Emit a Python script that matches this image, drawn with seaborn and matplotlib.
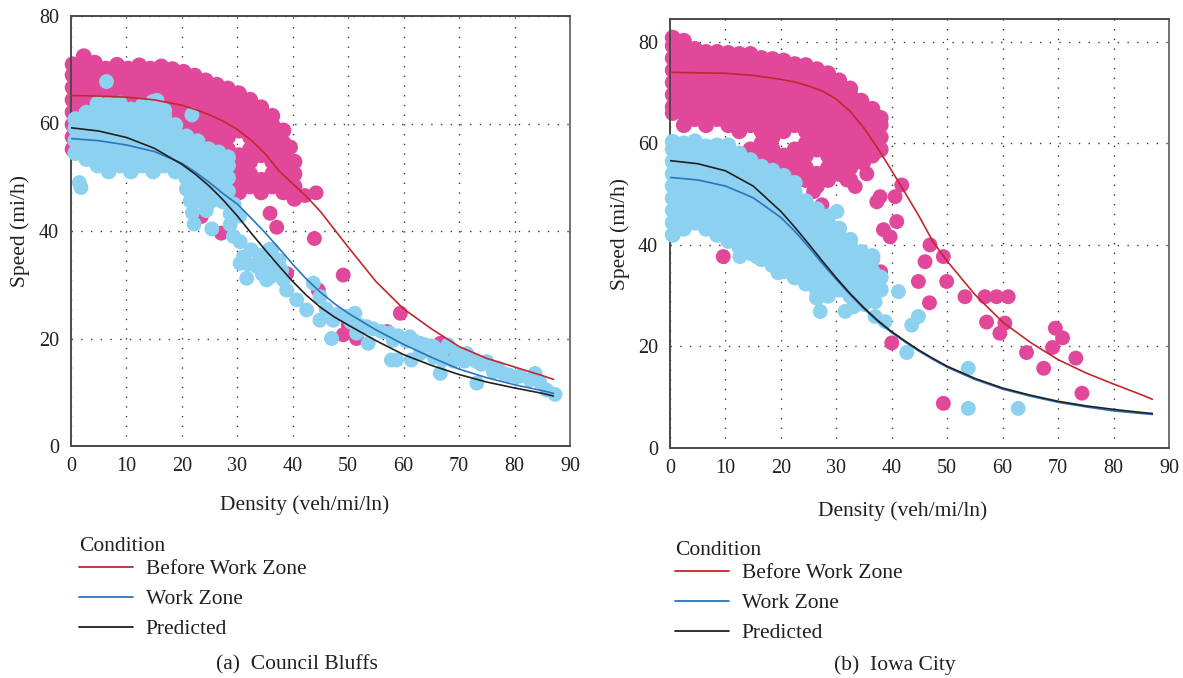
import matplotlib
matplotlib.use("Agg")
import matplotlib.pyplot as plt
from matplotlib.lines import Line2D
import pandas as pd
import seaborn as sns

# ---------------- data: fitted curves (speed vs density) ----------------
density_grid = [0, 5, 10, 15, 20, 22.5, 25, 27.5, 30, 32.5, 35, 37.5, 40, 42.5,
                45, 47.5, 50, 55, 60, 65, 70, 75, 80, 85, 87]

cb_before_curve = [65.2, 65.1, 64.9, 64.4, 63.4, 62.6, 61.6, 60.4, 58.9, 56.9, 54.4,
                   51.2, 48.8, 46.4, 43.6, 40.3, 37.0, 30.6, 25.5, 21.8, 18.5, 16.3,
                   14.7, 13.1, 12.4]
cb_workzone_curve = [57.2, 56.8, 56.0, 54.8, 52.6, 50.9, 49.0, 46.9, 45.0, 42.4, 39.7,
                     36.8, 33.8, 31.0, 28.6, 26.5, 24.7, 21.6, 18.9, 16.5, 14.3, 12.7,
                     11.4, 10.3, 9.8]
cb_predicted_curve = [59.2, 58.6, 57.4, 55.4, 52.4, 50.5, 48.3, 45.7, 42.8, 39.6, 36.5,
                      33.5, 30.6, 28.0, 25.8, 24.0, 22.5, 19.6, 17.0, 15.0, 13.3, 11.9,
                      10.8, 9.8, 9.3]

ic_before_curve = [74.0, 73.9, 73.8, 73.4, 72.6, 72.1, 71.3, 70.3, 68.7, 66.3, 63.0,
                   59.0, 54.6, 50.1, 45.5, 40.5, 36.8, 30.2, 24.8, 20.8, 17.4, 14.8,
                   12.6, 10.5, 9.6]
ic_workzone_curve = [53.3, 52.8, 51.6, 49.3, 45.4, 42.7, 39.6, 36.3, 33.2, 30.2, 27.4,
                     24.9, 22.7, 20.8, 19.0, 17.4, 15.9, 13.5, 11.6, 10.2, 9.0, 8.1,
                     7.3, 6.8, 6.6]
ic_predicted_curve = [56.6, 56.0, 54.6, 51.6, 46.6, 43.5, 40.2, 36.8, 33.5, 30.4, 27.6,
                      25.1, 22.9, 21.0, 19.2, 17.6, 16.1, 13.7, 11.8, 10.4, 9.2, 8.3,
                      7.6, 7.0, 6.8]

conditions = ["Before Work Zone", "Work Zone", "Predicted"]

# ---------------- data: observations (density column -> speeds) ----------------
cb_before_cols = {
    0.3: [55.2, 57.5, 59.8, 62.1, 64.4, 66.7, 69.0, 71.0],
    2.3: [61.0, 63.3, 65.6, 67.9, 70.2, 72.5],
    4.3: [62.1, 64.4, 66.7, 69.0, 71.3],
    6.3: [63.3, 65.6, 67.9, 70.2],
    8.3: [62.1, 64.4, 66.7, 69.0, 70.9],
    10.3: [63.3, 65.6, 67.9, 70.2],
    12.3: [62.1, 64.4, 66.7, 69.0, 70.8],
    14.3: [63.3, 65.6, 67.9, 70.2],
    16.3: [62.1, 64.4, 66.7, 69.0, 70.6],
    18.3: [58.7, 61.0, 63.3, 65.6, 67.9, 70.1],
    20.3: [57.5, 59.8, 62.1, 64.4, 66.7, 69.0, 69.6],
    22.3: [56.4, 58.7, 61.0, 63.3, 65.6, 67.9, 68.9],
    24.3: [55.2, 57.5, 59.8, 62.1, 64.4, 66.7, 68.0],
    26.3: [54.1, 56.4, 58.7, 61.0, 63.3, 65.6, 67.2],
    28.3: [48.3, 50.6, 52.9, 55.2, 57.5, 59.8, 62.1, 64.4, 66.5],
    30.3: [47.2, 49.5, 51.8, 54.1, 58.7, 61.0, 63.3, 65.6],
    32.3: [48.3, 50.6, 52.9, 55.2, 57.5, 59.8, 62.1, 64.4],
    34.3: [47.2, 49.5, 54.1, 56.4, 58.7, 61.0, 63.0],
    36.3: [48.3, 50.6, 52.9, 55.2, 57.5, 59.8, 61.4],
    38.3: [47.2, 49.5, 51.8, 54.1, 56.4, 58.7],
    40.3: [46.0, 48.3, 50.6, 52.9],
}
cb_before_extra = [(39.6, 55.6), (42.2, 46.6), (44.2, 47.1), (43.9, 38.6), (35.9, 43.3),
                   (37.1, 40.7), (23.5, 42.7), (27.1, 39.6), (49.1, 31.8), (59.4, 24.7),
                   (49.1, 20.7), (51.5, 20.0), (50.0, 22.5), (57.0, 21.3), (66.6, 19.1),
                   (69.0, 17.2), (44.6, 29.0), (38.9, 32.1), (26.5, 49.3), (29.8, 47.8)]

cb_workzone_cols = {
    0.8: [54.5, 56.8, 59.1, 60.8],
    2.8: [53.4, 55.7, 58.0, 60.3, 62.0],
    4.8: [52.2, 54.5, 56.8, 59.1, 61.4, 63.7],
    6.8: [51.1, 53.4, 55.7, 58.0, 60.3, 62.6, 63.6],
    8.8: [52.2, 54.5, 56.8, 59.1, 61.4, 63.7],
    10.8: [51.1, 53.4, 55.7, 58.0, 60.3, 62.6],
    12.8: [52.2, 54.5, 56.8, 59.1, 61.4, 63.2],
    14.8: [51.1, 53.4, 55.7, 58.0, 60.3, 62.6, 64.0],
    16.8: [52.2, 54.5, 56.8, 59.1, 61.4, 62.4],
    18.8: [51.1, 53.4, 55.7, 58.0, 59.7],
    20.8: [49.9, 52.2, 54.5, 56.8, 57.6],
    22.8: [48.8, 51.1, 53.4, 55.7, 56.7],
    24.8: [49.9, 52.2, 54.5, 55.2],
    26.6: [48.8, 51.1, 53.4, 54.6],
    28.3: [49.9, 52.2, 53.7],
}
cb_workzone_extra = [(15.5, 64.3), (6.4, 67.8), (21.8, 61.6), (1.5, 49.0), (1.8, 48.1),
                     (20.8, 47.8), (22.6, 48.0), (24.6, 47.9), (26.6, 48.0), (28.4, 47.4),
                     (21.5, 45.6), (23.4, 45.6), (25.4, 45.6), (27.4, 45.4), (29.4, 45.0),
                     (21.9, 43.4), (24.4, 43.8), (28.7, 43.2), (30.4, 42.8), (22.2, 41.3),
                     (25.4, 40.4), (28.7, 41.2), (29.3, 39.0), (30.5, 38.0), (31.1, 35.2),
                     (30.5, 34.0), (31.7, 31.2), (32.5, 36.5), (33.5, 33.4), (34.0, 35.5),
                     (35.0, 34.0), (35.3, 30.9), (36.2, 36.5), (36.5, 33.0), (37.5, 34.5),
                     (34.5, 32.0), (32.0, 33.8), (36.0, 31.5), (38.0, 32.7), (35.8, 36.6),
                     (38.3, 30.9), (38.9, 29.0), (40.7, 27.2), (42.5, 25.3), (43.7, 30.3),
                     (44.9, 27.8), (44.9, 23.4), (46.0, 25.5), (47.3, 23.4), (47.0, 20.0),
                     (48.0, 24.5), (49.7, 24.1), (50.5, 23.0), (51.2, 24.7), (51.5, 21.0),
                     (52.0, 22.5), (53.3, 22.2), (53.6, 19.1), (54.5, 21.8), (56.0, 21.3),
                     (57.5, 21.0), (57.8, 16.0), (58.7, 16.0), (58.1, 19.7), (59.0, 20.5),
                     (60.5, 19.5), (61.1, 20.3), (61.4, 16.0), (62.0, 19.5), (63.0, 19.1),
                     (63.0, 17.2), (64.0, 18.8), (65.4, 18.5), (65.5, 16.5), (66.6, 13.5),
                     (67.0, 17.8), (67.0, 16.0), (68.0, 18.8), (69.0, 15.8), (69.6, 17.2),
                     (70.0, 16.5), (71.4, 17.2), (71.0, 15.8), (72.0, 16.3), (73.2, 11.7),
                     (73.2, 15.7), (74.0, 15.2), (75.0, 15.7), (76.2, 13.8), (77.0, 14.5),
                     (78.0, 13.5), (79.0, 13.2), (80.4, 12.9), (81.0, 13.0), (82.8, 12.3),
                     (83.7, 13.5), (84.5, 12.0), (85.8, 10.4), (87.3, 9.6)]

ic_before_cols = {
    0.5: [66.0, 67.2, 69.6, 72.0, 74.4, 76.8, 79.2, 80.8],
    2.5: [63.6, 66.0, 68.4, 70.8, 73.2, 75.6, 78.0, 80.2],
    4.5: [64.8, 67.2, 69.6, 72.0, 74.4, 76.8, 78.6],
    6.5: [63.6, 66.0, 68.4, 70.8, 73.2, 75.6, 78.0],
    8.5: [64.8, 67.2, 69.6, 72.0, 74.4, 76.8, 78.0],
    10.5: [63.6, 66.0, 68.4, 70.8, 73.2, 75.6, 77.8],
    12.5: [62.4, 64.8, 67.2, 69.6, 72.0, 74.4, 76.8, 77.6],
    14.5: [58.8, 63.6, 66.0, 68.4, 70.8, 73.2, 75.6, 77.6],
    16.5: [57.6, 60.0, 62.4, 64.8, 67.2, 69.6, 72.0, 74.4, 76.8],
    18.5: [56.4, 58.8, 61.2, 63.6, 66.0, 68.4, 70.8, 73.2, 75.6, 76.6],
    20.5: [55.2, 57.6, 62.4, 64.8, 67.2, 69.6, 72.0, 74.4, 76.3],
    22.5: [54.0, 56.4, 58.8, 63.6, 66.0, 68.4, 70.8, 73.2, 75.6],
    24.5: [52.8, 55.2, 57.6, 60.0, 62.4, 64.8, 67.2, 69.6, 72.0, 74.4, 75.4],
    26.5: [51.6, 54.0, 58.8, 61.2, 63.6, 66.0, 68.4, 70.8, 73.2, 74.6],
    28.5: [52.8, 55.2, 57.6, 60.0, 62.4, 64.8, 67.2, 69.6, 72.0, 73.8],
    30.5: [54.0, 56.4, 58.8, 61.2, 63.6, 66.0, 68.4, 70.8, 72.4],
    32.5: [52.8, 55.2, 57.6, 60.0, 62.4, 64.8, 67.2, 69.6, 70.8],
    34.5: [56.4, 58.8, 61.2, 63.6, 66.0, 68.4],
    36.5: [57.6, 60.0, 62.4, 64.8, 66.8],
    38.0: [58.8, 61.2, 63.6, 65.0],
}
ic_before_extra = [(33.4, 51.5), (31.9, 52.8), (33.1, 56.7), (34.9, 56.1), (36.7, 60.7),
                   (37.3, 58.4), (37.9, 49.5), (37.3, 48.5), (40.6, 49.5), (41.8, 51.8),
                   (38.5, 43.0), (39.7, 41.6), (40.9, 44.6), (27.4, 47.9), (25.9, 50.5),
                   (46.9, 40.0), (46.0, 36.7), (49.3, 37.7), (44.8, 32.8), (49.9, 32.8),
                   (46.8, 28.6), (53.2, 29.8), (56.8, 29.8), (58.9, 29.8), (61.0, 29.8),
                   (57.1, 24.8), (59.5, 22.6), (60.4, 24.6), (64.3, 18.8), (67.4, 15.7),
                   (69.0, 19.8), (69.5, 23.6), (70.8, 21.7), (73.2, 17.7), (74.3, 10.8),
                   (40.0, 20.7), (49.3, 8.8), (38.0, 34.7), (9.6, 37.7), (35.5, 54.0)]

ic_workzone_cols = {
    0.5: [42.0, 44.4, 46.8, 49.2, 51.6, 54.0, 56.4, 58.8, 60.3],
    2.5: [43.2, 45.6, 48.0, 50.4, 52.8, 55.2, 57.6, 60.0],
    4.5: [44.4, 46.8, 49.2, 51.6, 54.0, 56.4, 58.8, 60.4],
    6.5: [43.2, 45.6, 48.0, 50.4, 52.8, 55.2, 57.6, 59.4],
    8.5: [42.0, 44.4, 46.8, 49.2, 51.6, 54.0, 56.4, 58.8, 59.6],
    10.5: [40.8, 43.2, 45.6, 48.0, 50.4, 52.8, 55.2, 57.6, 59.6],
    12.5: [39.6, 42.0, 44.4, 46.8, 49.2, 51.6, 54.0, 56.4, 58.0],
    14.5: [38.4, 40.8, 43.2, 45.6, 48.0, 50.4, 52.8, 55.2, 56.7],
    16.5: [37.2, 39.6, 42.0, 44.4, 46.8, 49.2, 51.6, 54.0, 55.4],
    18.5: [36.0, 38.4, 40.8, 43.2, 45.6, 48.0, 50.4, 52.8, 54.6],
    20.5: [34.8, 37.2, 39.6, 42.0, 44.4, 46.8, 49.2, 51.6, 53.6],
    22.5: [33.6, 36.0, 38.4, 40.8, 43.2, 45.6, 48.0, 50.4, 52.2],
    24.5: [32.4, 34.8, 37.2, 39.6, 42.0, 44.4, 46.8, 48.6],
    26.5: [29.6, 31.2, 33.6, 36.0, 38.4, 40.8, 43.2, 45.6, 47.0],
    28.5: [30.0, 32.4, 34.8, 37.2, 39.6, 42.0, 44.4, 45.6],
    30.5: [31.2, 33.6, 36.0, 38.4, 40.8, 43.2],
    32.5: [30.0, 32.4, 34.8, 37.2, 39.6, 41.0],
    34.5: [28.8, 31.2, 33.6, 36.0, 38.6],
    36.5: [30.0, 32.4, 34.8, 37.2, 37.8],
    38.0: [31.2, 33.6],
}
ic_workzone_extra = [(30.1, 46.6), (27.1, 26.9), (31.6, 26.9), (33.1, 27.8), (35.0, 28.3),
                     (37.0, 28.8), (37.0, 25.9), (38.8, 24.9), (41.2, 30.8), (43.6, 24.2),
                     (44.8, 25.9), (42.7, 18.8), (53.8, 15.7), (53.8, 7.8), (62.8, 7.8),
                     (12.6, 37.7), (15.6, 37.7), (19.5, 34.5)]

x_ticks = [0, 10, 20, 30, 40, 50, 60, 70, 80, 90]
cb_y_ticks = [0, 20, 40, 60, 80]
ic_y_ticks = [0, 20, 40, 60, 80]
panel_titles = ["(a)  Council Bluffs", "(b)  Iowa City"]

# ---------------- styling ----------------
PINK = "#E2489A"
SKY = "#8CD1F0"
palette = {"Before Work Zone": "#C1272D", "Work Zone": "#2B74BE", "Predicted": "#231F20"}
TXT = "#231F20"
CORE_AREA = 132     # marker area for the densely packed core of each cloud
SINGLE_AREA = 115   # marker area for the scattered individual observations

sns.set_theme(style="white")
plt.rcParams["font.family"] = ["Liberation Serif", "DejaVu Serif"]

W, H = 1183, 678
fig = plt.figure(figsize=(W / 100, H / 100), dpi=100)
fig.patch.set_facecolor("white")


def cloud_frame(cols, extra):
    xs, ys, part = [], [], []
    for x, speeds in cols.items():
        for v in speeds:
            xs.append(x)
            ys.append(v)
            part.append("core")
    for x, v in extra:
        xs.append(x)
        ys.append(v)
        part.append("single")
    return pd.DataFrame({"Density": xs, "Speed": ys, "part": part})


def curve_frame(before, wz, pred):
    rows = []
    for name, vals in zip(conditions, [before, wz, pred]):
        for d, v in zip(density_grid, vals):
            rows.append((name, d, v))
    return pd.DataFrame(rows, columns=["Condition", "Density", "Speed"])


def draw_cloud(ax, df, color, z):
    sns.scatterplot(data=df, x="Density", y="Speed", size="part",
                    sizes={"core": CORE_AREA, "single": SINGLE_AREA},
                    color=color, linewidth=0, legend=False, ax=ax,
                    clip_on=False, zorder=z)


def draw_panel(rect, before_df, wz_df, curves_df, ylim, yticks,
               xlabel_pos, ylabel_x, legend_anchor, caption_pos, caption):
    ax = fig.add_axes(rect)
    ax.set_axisbelow(True)
    draw_cloud(ax, before_df, PINK, 2)
    draw_cloud(ax, wz_df, SKY, 3)
    sns.lineplot(data=curves_df, x="Density", y="Speed", hue="Condition",
                 hue_order=conditions, palette=palette, linewidth=1.2,
                 legend=False, ax=ax, zorder=5, estimator=None)
    ax.set_xlim(0, 90)
    ax.set_ylim(*ylim)
    ax.set_xticks(x_ticks)
    ax.set_yticks(yticks)
    ax.grid(True, color="#3a3a3a", linestyle=(0, (1, 6)), linewidth=1.0)
    for side, sp in ax.spines.items():
        sp.set_visible(True)
        sp.set_color("#4a4a4a" if side != "right" else "#707070")
        sp.set_linewidth(1.4)
    ax.tick_params(axis="both", length=0, labelsize=14.5, colors=TXT)
    ax.tick_params(axis="x", pad=8)
    ax.tick_params(axis="y", pad=8.5)
    ax.set_xlabel("Density (veh/mi/ln)", fontsize=15.5, color=TXT)
    ax.xaxis.set_label_coords(*xlabel_pos)
    ax.set_ylabel("Speed (mi/h)", fontsize=15.5, color=TXT)
    ax.yaxis.set_label_coords(ylabel_x, 0.5)

    handles = [Line2D([0], [0], color=palette[c], lw=1.3) for c in conditions]
    leg = ax.legend(handles, conditions, title="Condition", loc="upper left",
                    bbox_to_anchor=legend_anchor, bbox_transform=fig.transFigure,
                    frameon=False, fontsize=15.5, title_fontsize=15.5,
                    handlelength=2.5, handletextpad=0.6, labelspacing=0.47,
                    borderpad=0, borderaxespad=0, alignment="left")
    for t in leg.get_texts():
        t.set_color(TXT)
    leg.get_title().set_color(TXT)
    leg._legend_box.sep = 2.2
    fig.text(caption_pos[0] / W, 1 - caption_pos[1] / H, caption, ha="center",
             va="center", fontsize=15.5, color=TXT)
    return ax


cb_curves = curve_frame(cb_before_curve, cb_workzone_curve, cb_predicted_curve)
ic_curves = curve_frame(ic_before_curve, ic_workzone_curve, ic_predicted_curve)

draw_panel([71 / W, 1 - 446 / H, 499 / W, 430 / H],
           cloud_frame(cb_before_cols, cb_before_extra),
           cloud_frame(cb_workzone_cols, cb_workzone_extra),
           cb_curves, (0, 80), cb_y_ticks,
           xlabel_pos=(0.469, -0.114), ylabel_x=-0.082,
           legend_anchor=(79 / W, 1 - 537 / H),
           caption_pos=(297, 665), caption=panel_titles[0])

draw_panel([670 / W, 1 - 448 / H, 499 / W, 429 / H],
           cloud_frame(ic_before_cols, ic_before_extra),
           cloud_frame(ic_workzone_cols, ic_workzone_extra),
           ic_curves, (0, 84.5), ic_y_ticks,
           xlabel_pos=(0.467, -0.123), ylabel_x=-0.080,
           legend_anchor=(675 / W, 1 - 541 / H),
           caption_pos=(895, 665), caption=panel_titles[1])

fig.savefig("out.png", dpi=100, facecolor="white")
